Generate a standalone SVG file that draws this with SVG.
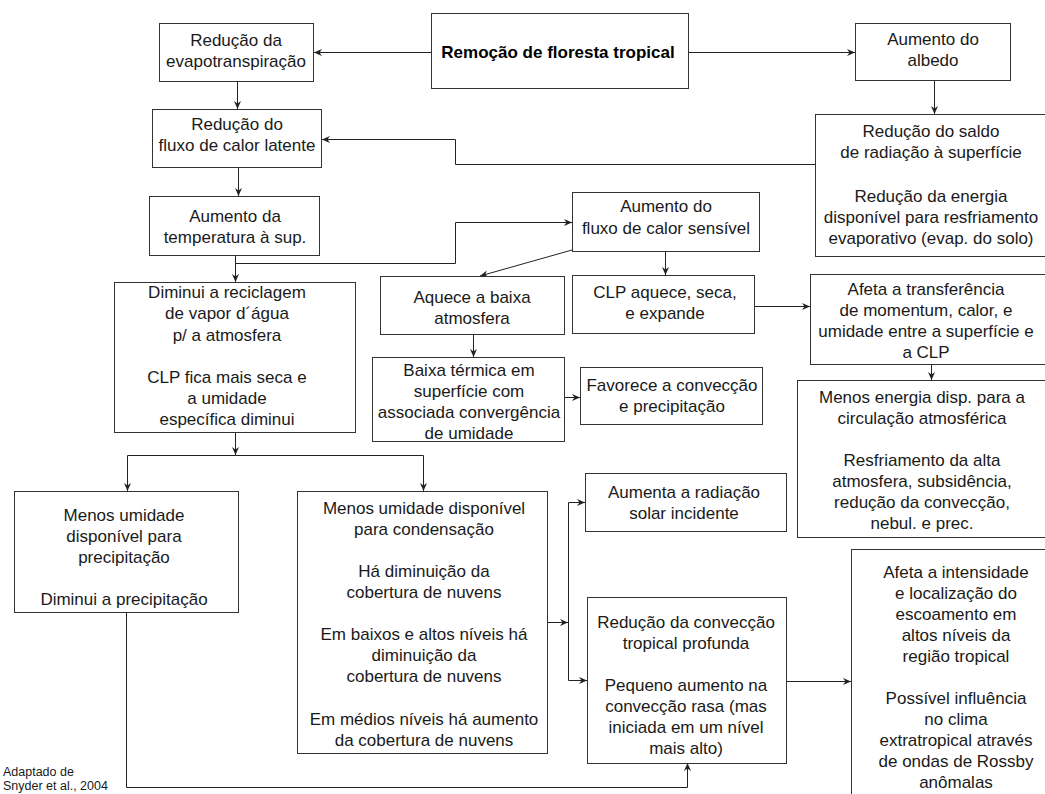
<svg xmlns="http://www.w3.org/2000/svg" width="1045" height="794" viewBox="0 0 1045 794">
<defs>
<style>
.box{fill:#fff;stroke:#333;stroke-width:1}
.t{font-family:"Liberation Sans",Arial,sans-serif;font-size:17px;fill:#1a1a1a;text-anchor:middle}
.b{font-weight:bold;fill:#000}
.ft{font-family:"Liberation Sans",Arial,sans-serif;font-size:12.5px;fill:#1a1a1a}
.c{fill:none;stroke:#222;stroke-width:1}
</style>
<marker id="ah" viewBox="0 0 8 8" refX="8" refY="4" markerWidth="8" markerHeight="8" markerUnits="userSpaceOnUse" orient="auto">
<path d="M0,0.5 L8,4 L0,7.5 L2.5,4 Z" fill="#222"/>
</marker>
</defs>
<rect width="1045" height="794" fill="#fff"/>

<g id="connectors">
<path class="c" d="M431,52.5 H314" marker-end="url(#ah)"/>
<path class="c" d="M689,52.5 H855" marker-end="url(#ah)"/>
<path class="c" d="M237.5,82 V109" marker-end="url(#ah)"/>
<path class="c" d="M934.5,81 V114" marker-end="url(#ah)"/>
<path class="c" d="M815,164.5 H455.5 V139.5 H322" marker-end="url(#ah)"/>
<path class="c" d="M238.5,168 V196" marker-end="url(#ah)"/>
<path class="c" d="M235.5,256 V282" marker-end="url(#ah)"/>
<path class="c" d="M235.5,263.5 H455.5 V222.5 H572" marker-end="url(#ah)"/>
<path class="c" d="M572,250 L480,276" marker-end="url(#ah)"/>
<path class="c" d="M665.5,252 V275" marker-end="url(#ah)"/>
<path class="c" d="M473.5,334 V357" marker-end="url(#ah)"/>
<path class="c" d="M564,397.5 H580" marker-end="url(#ah)"/>
<path class="c" d="M755,306.5 H810" marker-end="url(#ah)"/>
<path class="c" d="M931.5,364 V380" marker-end="url(#ah)"/>
<path class="c" d="M235.5,433 V455" marker-end="url(#ah)"/>
<path class="c" d="M127.5,455.5 H423.5"/>
<path class="c" d="M127.5,455.5 V491" marker-end="url(#ah)"/>
<path class="c" d="M423.5,455.5 V491" marker-end="url(#ah)"/>
<path class="c" d="M548,622.5 H568" marker-end="url(#ah)"/>
<path class="c" d="M568.5,680.5 V502.5"/>
<path class="c" d="M568.5,502.5 H585" marker-end="url(#ah)"/>
<path class="c" d="M568.5,680.5 H587" marker-end="url(#ah)"/>
<path class="c" d="M126.5,613 V787.5 H687.5 V763" marker-end="url(#ah)"/>
<path class="c" d="M787,681.5 H851" marker-end="url(#ah)"/>
</g>

<g id="n-main">
<rect class="box" x="431.5" y="13.5" width="257" height="75"/>
<text class="t b" x="558" y="58">Remoção de floresta tropical</text>
</g>

<g id="n-evap">
<rect class="box" x="159.5" y="23.5" width="154" height="58"/>
<text class="t" x="236" y="46">Redução da</text>
<text class="t" x="236" y="67">evapotranspiração</text>
</g>

<g id="n-albedo">
<rect class="box" x="855.5" y="23.5" width="155" height="57"/>
<text class="t" x="933" y="45">Aumento do</text>
<text class="t" x="933" y="66">albedo</text>
</g>

<g id="n-latente">
<rect class="box" x="152.5" y="109.5" width="169" height="58"/>
<text class="t" x="237" y="130">Redução do</text>
<text class="t" x="237" y="151">fluxo de calor latente</text>
</g>

<g id="n-saldo">
<rect class="box" x="815.5" y="114.5" width="235" height="142"/>
<text class="t" x="931" y="137">Redução do saldo</text>
<text class="t" x="931" y="158">de radiação à superfície</text>
<text class="t" x="931" y="202">Redução da energia</text>
<text class="t" x="931" y="223">disponível para resfriamento</text>
<text class="t" x="931" y="244">evaporativo (evap. do solo)</text>
</g>

<g id="n-temp">
<rect class="box" x="149.5" y="196.5" width="170" height="59"/>
<text class="t" x="235" y="222">Aumento da</text>
<text class="t" x="235" y="243">temperatura à sup.</text>
</g>

<g id="n-sensivel">
<rect class="box" x="572.5" y="192.5" width="187" height="59"/>
<text class="t" x="666" y="212">Aumento do</text>
<text class="t" x="666" y="234">fluxo de calor sensível</text>
</g>

<g id="n-diminui">
<rect class="box" x="114.5" y="282.5" width="241" height="150"/>
<text class="t" x="227" y="298">Diminui a reciclagem</text>
<text class="t" x="227" y="319">de vapor d´água</text>
<text class="t" x="227" y="341">p/ a atmosfera</text>
<text class="t" x="227" y="383">CLP fica mais seca e</text>
<text class="t" x="227" y="404">a umidade</text>
<text class="t" x="227" y="425">específica diminui</text>
</g>

<g id="n-aquece">
<rect class="box" x="380.5" y="276.5" width="184" height="58"/>
<text class="t" x="472" y="303">Aquece a baixa</text>
<text class="t" x="472" y="324">atmosfera</text>
</g>

<g id="n-clp">
<rect class="box" x="572.5" y="275.5" width="182" height="58"/>
<text class="t" x="665" y="298">CLP aquece, seca,</text>
<text class="t" x="665" y="319">e expande</text>
</g>

<g id="n-afeta-transf">
<rect class="box" x="810.5" y="274.5" width="238" height="90"/>
<text class="t" x="926" y="295">Afeta a transferência</text>
<text class="t" x="926" y="316">de momentum, calor, e</text>
<text class="t" x="926" y="337">umidade entre a superfície e</text>
<text class="t" x="926" y="358">a CLP</text>
</g>

<g id="n-baixa">
<rect class="box" x="372.5" y="357.5" width="192" height="84"/>
<text class="t" x="469" y="376">Baixa térmica em</text>
<text class="t" x="469" y="397">superfície com</text>
<text class="t" x="469" y="418">associada convergência</text>
<text class="t" x="469" y="439">de umidade</text>
</g>

<g id="n-favorece">
<rect class="box" x="580.5" y="367.5" width="182" height="57"/>
<text class="t" x="672" y="391">Favorece a convecção</text>
<text class="t" x="672" y="412">e precipitação</text>
</g>

<g id="n-menos-energia">
<rect class="box" x="797.5" y="380.5" width="252" height="157"/>
<text class="t" x="922" y="403">Menos energia disp. para a</text>
<text class="t" x="922" y="424">circulação atmosférica</text>
<text class="t" x="922" y="466">Resfriamento da alta</text>
<text class="t" x="922" y="487">atmosfera, subsidência,</text>
<text class="t" x="922" y="508">redução da convecção,</text>
<text class="t" x="922" y="529">nebul. e prec.</text>
</g>

<g id="n-precip">
<rect class="box" x="14.5" y="491.5" width="224" height="121"/>
<text class="t" x="124" y="521">Menos umidade</text>
<text class="t" x="124" y="542">disponível para</text>
<text class="t" x="124" y="563">precipitação</text>
<text class="t" x="124" y="605">Diminui a precipitação</text>
</g>

<g id="n-condensacao">
<rect class="box" x="297.5" y="491.5" width="250" height="262"/>
<text class="t" x="424" y="514">Menos umidade disponível</text>
<text class="t" x="424" y="535">para condensação</text>
<text class="t" x="424" y="577">Há diminuição da</text>
<text class="t" x="424" y="598">cobertura de nuvens</text>
<text class="t" x="424" y="640">Em baixos e altos níveis há</text>
<text class="t" x="424" y="661">diminuição da</text>
<text class="t" x="424" y="682">cobertura de nuvens</text>
<text class="t" x="424" y="725">Em médios níveis há aumento</text>
<text class="t" x="424" y="746">da cobertura de nuvens</text>
</g>

<g id="n-radiacao">
<rect class="box" x="585.5" y="473.5" width="201" height="58"/>
<text class="t" x="684" y="498">Aumenta a radiação</text>
<text class="t" x="684" y="519">solar incidente</text>
</g>

<g id="n-conveccao">
<rect class="box" x="587.5" y="597.5" width="199" height="166"/>
<text class="t" x="686" y="628">Redução da convecção</text>
<text class="t" x="686" y="649">tropical profunda</text>
<text class="t" x="686" y="691">Pequeno aumento na</text>
<text class="t" x="686" y="712">convecção rasa (mas</text>
<text class="t" x="686" y="733">iniciada em um nível</text>
<text class="t" x="686" y="754">mais alto)</text>
</g>

<g id="n-intensidade">
<rect class="box" x="851.5" y="549.5" width="210" height="260"/>
<text class="t" x="956" y="578">Afeta a intensidade</text>
<text class="t" x="956" y="599">e localização do</text>
<text class="t" x="956" y="620">escoamento em</text>
<text class="t" x="956" y="641">altos níveis da</text>
<text class="t" x="956" y="662">região tropical</text>
<text class="t" x="956" y="704">Possível influência</text>
<text class="t" x="956" y="725">no clima</text>
<text class="t" x="956" y="746">extratropical através</text>
<text class="t" x="956" y="767">de ondas de Rossby</text>
<text class="t" x="956" y="788">anômalas</text>
</g>

<g id="credit">
<text class="ft" x="3" y="776">Adaptado de</text>
<text class="ft" x="3" y="790">Snyder et al., 2004</text>
</g>
</svg>
